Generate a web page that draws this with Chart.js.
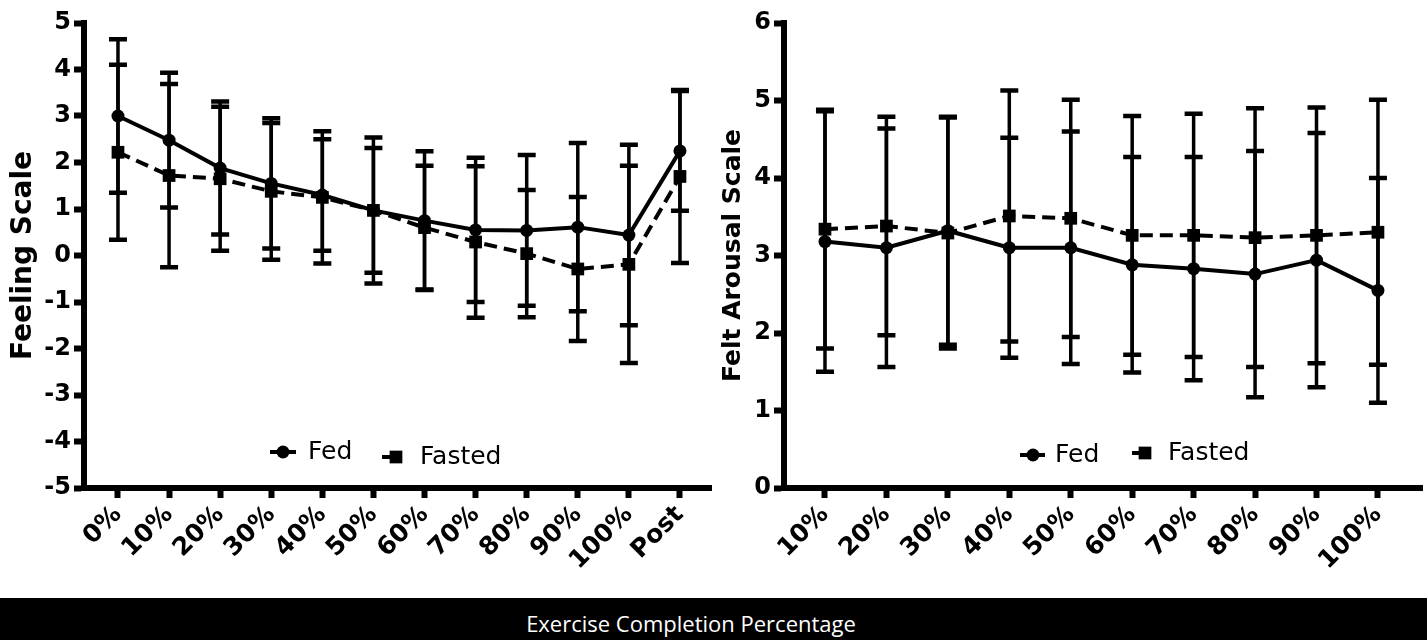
<!DOCTYPE html>
<html>
<head>
    <title>Feeling Scale and Felt Arousal Scale</title>
    <script src="https://cdn.jsdelivr.net/npm/chart.js"></script>
    <style>
  body {
    margin: 0;
    padding: 0;
    background-color: #fff;
    width: 1427px;
    height: 640px;
    overflow: hidden;
    position: relative;
}

.chart-box {
    position: absolute;
    top: 0;
    height: 598px;
}

#leftBox {
    left: 0;
    width: 712px;
}

#rightBox {
    left: 712px;
    width: 715px;
}

/* black caption band under both panels */
.caption {
    position: absolute;
    left: 0;
    top: 598px;
    width: 1427px;
    height: 42px;
    box-sizing: border-box;
    padding-right: 45px;
    padding-top: 4px;
    background-color: #000;
    color: #fff;
    font-family: "Open Sans", sans-serif;
    font-size: 22px;
    line-height: 42px;
    text-align: center;
}
</style>
</head>
<body>

    <div class="chart-box" id="leftBox"><canvas id="feelingChart"></canvas></div>
    <div class="chart-box" id="rightBox"><canvas id="arousalChart"></canvas></div>
    <div class="caption">Exercise Completion Percentage</div>

    <script>
        // Feeling Scale (left panel)
        const feelingLabels = ['0%', '10%', '20%', '30%', '40%', '50%', '60%', '70%', '80%', '90%', '100%', 'Post'];
        const feelingFedMean = [3.0, 2.48, 1.88, 1.55, 1.3, 0.97, 0.75, 0.55, 0.54, 0.61, 0.44, 2.25];
        const feelingFedSD = [1.65, 1.45, 1.43, 1.4, 1.2, 1.57, 1.49, 1.55, 1.62, 1.81, 1.94, 1.29];
        const feelingFastedMean = [2.22, 1.72, 1.65, 1.38, 1.25, 0.97, 0.6, 0.29, 0.04, -0.29, -0.19, 1.70];
        const feelingFastedSD = [1.88, 1.97, 1.55, 1.47, 1.42, 1.34, 1.33, 1.63, 1.37, 1.55, 2.12, 1.86];
        const feelingTicks = [-5, 5];

        // Felt Arousal Scale (right panel)
        const arousalLabels = ['10%', '20%', '30%', '40%', '50%', '60%', '70%', '80%', '90%', '100%'];
        const arousalFedMean = [3.18, 3.10, 3.32, 3.10, 3.10, 2.88, 2.83, 2.76, 2.94, 2.55];
        const arousalFedSD = [1.68, 1.54, 1.47, 1.42, 1.5, 1.39, 1.44, 1.59, 1.64, 1.45];
        const arousalFastedMean = [3.34, 3.38, 3.29, 3.51, 3.48, 3.26, 3.26, 3.23, 3.26, 3.30];
        const arousalFastedSD = [1.54, 1.41, 1.49, 1.62, 1.53, 1.54, 1.57, 1.67, 1.65, 1.71];
        const arousalTicks = [0, 6];

        Chart.defaults.font.family = 'DejaVu Sans';
        Chart.defaults.color = '#000';

        // mean +/- SD whiskers with caps
        const errorBars = {
            id: 'errorBars',
            afterDatasetsDraw(chart) {
                const ctx = chart.ctx;
                const yScale = chart.scales.y;
                chart.data.datasets.forEach((ds, i) => {
                    const meta = chart.getDatasetMeta(i);
                    meta.data.forEach((pt, j) => {
                        const m = ds.data[j].y;
                        const s = ds.sd[j];
                        const top = yScale.getPixelForValue(m + s);
                        const bot = yScale.getPixelForValue(m - s);
                        ctx.save();
                        ctx.strokeStyle = '#000';
                        ctx.lineWidth = 3.5;
                        ctx.beginPath();
                        ctx.moveTo(pt.x, top);
                        ctx.lineTo(pt.x, bot);
                        ctx.stroke();
                        ctx.lineWidth = 4.5;
                        ctx.beginPath();
                        ctx.moveTo(pt.x - 9, top);
                        ctx.lineTo(pt.x + 9, top);
                        ctx.moveTo(pt.x - 9, bot);
                        ctx.lineTo(pt.x + 9, bot);
                        ctx.stroke();
                        ctx.restore();
                    });
                });
            }
        };

        // legend drawn inside the plot area, near the bottom
        const insideLegend = {
            id: 'insideLegend',
            afterDraw(chart, args, opts) {
                const ctx = chart.ctx;
                chart.data.datasets.forEach((ds, i) => {
                    const it = opts.items[i];
                    ctx.save();
                    ctx.strokeStyle = '#000';
                    ctx.fillStyle = '#000';
                    ctx.lineWidth = 4;
                    ctx.beginPath();
                    ctx.moveTo(it.from, it.y);
                    ctx.lineTo(it.to, it.y);
                    ctx.stroke();
                    Chart.helpers.drawPoint(ctx, { pointStyle: ds.pointStyle, radius: ds.pointRadius, rotation: 0, borderWidth: 0 }, it.marker, it.y);
                    ctx.font = '25px "DejaVu Sans"';
                    ctx.textBaseline = 'middle';
                    ctx.fillText(ds.label, it.text, it.y);
                    ctx.restore();
                });
            }
        };

        function makeDatasets(fedMean, fedSD, fastMean, fastSD) {
            return [
                {
                    label: 'Fed',
                    data: fedMean.map((v, i) => ({ x: i, y: v })),
                    sd: fedSD,
                    borderColor: '#000',
                    backgroundColor: '#000',
                    borderWidth: 4,
                    pointStyle: 'circle',
                    pointRadius: 6.5,
                    pointBorderWidth: 0,
                    tension: 0
                },
                {
                    label: 'Fasted',
                    data: fastMean.map((v, i) => ({ x: i, y: v })),
                    sd: fastSD,
                    borderColor: '#000',
                    backgroundColor: '#000',
                    borderWidth: 4,
                    borderDash: [13, 7],
                    pointStyle: 'rect',
                    pointRadius: 9,
                    pointBorderWidth: 0,
                    tension: 0
                }
            ];
        }

        function makeOptions(labels, xMin, xMax, yRange, title, titleSize, titlePad, axisWidth, rightPad, legendItems) {
            return {
                responsive: true,
                maintainAspectRatio: false,
                animation: false,
                layout: { autoPadding: false, padding: { top: 23, right: rightPad, left: 0, bottom: 0 } },
                plugins: {
                    legend: { display: false },
                    tooltip: { enabled: false },
                    insideLegend: { items: legendItems }
                },
                scales: {
                    x: {
                        type: 'linear',
                        min: xMin,
                        max: xMax,
                        afterBuildTicks: (scale) => { scale.ticks = labels.map((_, i) => ({ value: i })); },
                        afterFit: (scale) => {
                            scale.height = 110;
                            scale.paddingLeft = 0;
                            scale.paddingRight = 0;
                        },
                        ticks: {
                            autoSkip: false,
                            minRotation: 45,
                            maxRotation: 45,
                            padding: 2,
                            color: '#000',
                            font: { size: 25, weight: 'bold' },
                            callback: (v) => labels[v]
                        },
                        grid: { drawOnChartArea: false, tickLength: 10, tickWidth: 6, tickColor: '#000' },
                        border: { width: 6, color: '#000' }
                    },
                    y: {
                        min: yRange[0],
                        max: yRange[1],
                        afterFit: (scale) => { scale.width = axisWidth; },
                        ticks: {
                            stepSize: 1,
                            padding: 3,
                            color: '#000',
                            font: { size: 24, weight: 'bold' }
                        },
                        grid: { drawOnChartArea: false, tickLength: 10, tickWidth: 6, tickColor: '#000' },
                        border: { width: 6, color: '#000' },
                        title: {
                            display: true,
                            text: title,
                            color: '#000',
                            font: { size: titleSize, weight: 'bold' },
                            padding: { top: titlePad, bottom: 0 }
                        }
                    }
                }
            };
        }

        new Chart(document.getElementById('feelingChart'), {
            type: 'line',
            data: { datasets: makeDatasets(feelingFedMean, feelingFedSD, feelingFastedMean, feelingFastedSD) },
            options: makeOptions(feelingLabels, -0.665, 11.627, feelingTicks, 'Feeling Scale', 28, 7, 84, 0, [
                { from: 270, to: 296, marker: 283, text: 308, y: 452 },
                { from: 382, to: 402, marker: 396, text: 420, y: 457 }
            ]),
            plugins: [errorBars, insideLegend]
        });

        new Chart(document.getElementById('arousalChart'), {
            type: 'line',
            data: { datasets: makeDatasets(arousalFedMean, arousalFedSD, arousalFastedMean, arousalFastedSD) },
            options: makeOptions(arousalLabels, -0.667, 9.717, arousalTicks, 'Felt Arousal Scale', 25, 6, 72, 5, [
                { from: 308, to: 333, marker: 321, text: 343, y: 455 },
                { from: 420, to: 438, marker: 433, text: 456, y: 453 }
            ]),
            plugins: [errorBars, insideLegend]
        });
    </script>
</body>
</html>
